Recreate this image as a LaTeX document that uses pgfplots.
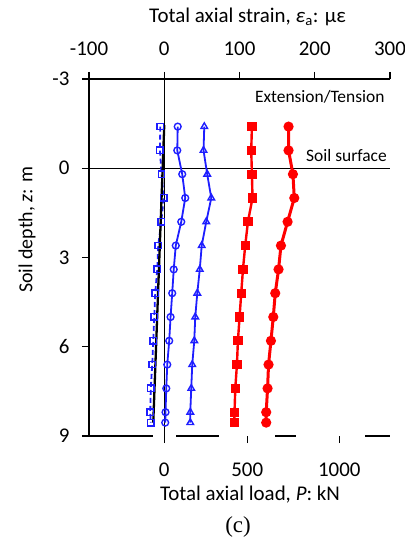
\documentclass[border=0pt]{standalone}
\usepackage{pgfplots}
\usepackage{pgfplotstable}
\pgfplotsset{compat=1.18}
\usepackage{fontspec}
\setmainfont{Carlito}
\newfontfamily\seriffont{Liberation Serif}
\definecolor{myblue}{RGB}{30,30,255}
\definecolor{myred}{RGB}{255,0,0}

% depth z (m) and total axial strain (micro-strain) for each series
\pgfplotstableread{
z e
-1.4 -5.3
-0.6 -5.7
0.2 -3.6
1.0 -0.7
1.8 -4.0
2.6 -8.0
3.4 -9.3
4.2 -12.0
5.0 -13.3
5.8 -14.6
6.6 -16.0
7.4 -17.9
8.2 -18.6
8.55 -17.9
}\sA
\pgfplotstableread{
z e
-1.4 17.9
-0.6 17.3
0.2 23.9
1.0 27.9
1.8 22.6
2.6 15.3
3.4 12.6
4.2 10.6
5.0 8.4
5.8 6.6
6.6 4.0
7.4 2.7
8.2 1.7
8.55 1.3
}\sB
\pgfplotstableread{
z e
-1.4 53.2
-0.6 52.2
0.2 57.1
1.0 62.5
1.8 55.8
2.6 49.8
3.4 47.2
4.2 43.9
5.0 41.2
5.8 39.9
6.6 37.2
7.4 35.9
8.2 34.6
8.55 34.6
}\sC
\pgfplotstableread{
z e
-1.4 116.5
-0.6 115.6
0.2 116.5
1.0 117.3
1.8 111.2
2.6 107.6
3.4 104.6
4.2 102.3
5.0 100.1
5.8 97.9
6.6 96.6
7.4 94.4
8.2 93.4
8.55 93.0
}\sD
\pgfplotstableread{
z e
-1.4 165.2
-0.6 165.2
0.2 171.0
1.0 172.8
1.8 163.9
2.6 155.1
3.4 151.9
4.2 147.5
5.0 144.9
5.8 141.8
6.6 138.6
7.4 137.3
8.2 135.5
8.55 135.5
}\sE
\pgfplotstableread{
z e
-1.45 0
8.55 -14.6
}\sF

\begin{document}
\begin{tikzpicture}
\useasboundingbox (-89bp,-103bp) rectangle (316bp,436bp);
\begin{axis}[
  at={(0,0)}, anchor=south west,
  scale only axis, width=301bp, height=357bp,
  xmin=-100, xmax=300, ymin=-9, ymax=3,
  axis x line*=top, axis y line*=left,
  xtick={-100,0,100,200,300}, xticklabels={-100,0,100,200,300},
  ytick={-9,-6,-3,0,3}, yticklabels={9,6,3,0,-3},
  tick align=outside, major tick length=7bp,
  ticklabel style={font=\fontsize{21}{21}\selectfont},
  xticklabel style={yshift=13bp},
  yticklabel style={xshift=-9bp},
  axis line style={line width=1.2bp, black},
  tick style={line width=1.2bp, black},
  clip=false,
]
\addplot[black, line width=0.8bp, forget plot] coordinates {(-100,0) (300,0)};
\addplot[black, line width=0.8bp, forget plot] coordinates {(0,3) (0,-9.2)};
\addplot[myblue, line width=1.8bp, dash pattern=on 5bp off 3bp, mark=square, mark size=3.2bp,
  mark options={solid, fill=white, line width=1.4bp}] table[x=e, y expr=-\thisrow{z}] {\sA};
\addplot[black, line width=2.3bp] table[x=e, y expr=-\thisrow{z}] {\sF};
\addplot[myblue, line width=1.8bp, mark=o, mark size=3.4bp,
  mark options={fill=white, line width=1.4bp}] table[x=e, y expr=-\thisrow{z}] {\sB};
\addplot[myblue, line width=1.8bp, mark=triangle, mark size=3.8bp,
  mark options={fill=white, line width=1.4bp}] table[x=e, y expr=-\thisrow{z}] {\sC};
\addplot[myred, line width=2.4bp, mark=square*, mark size=3.4bp,
  mark options={fill=myred}] table[x=e, y expr=-\thisrow{z}] {\sD};
\addplot[myred, line width=3bp, mark=*, mark size=3.5bp,
  mark options={fill=myred}] table[x=e, y expr=-\thisrow{z}] {\sE};
\node[anchor=east, inner sep=0pt, font=\fontsize{17.5}{17.5}\selectfont] at (axis cs:293,2.4) {Extension/Tension};
\node[anchor=east, inner sep=0pt, font=\fontsize{17.5}{17.5}\selectfont] at (axis cs:296,0.42) {Soil surface};
\end{axis}
\begin{axis}[
  at={(0,0)}, anchor=south west,
  scale only axis, width=301bp, height=357bp,
  xmin=-100, xmax=300, ymin=-9, ymax=3,
  axis x line*=bottom, axis y line=none,
  xtick={0,110.3,232.6}, xticklabels={0,500,1000},
  tick align=outside, major tick length=7bp,
  ticklabel style={font=\fontsize{21}{21}\selectfont},
  xticklabel style={yshift=-16bp},
  x axis line style={draw=none},
  tick style={line width=1.2bp, black},
  clip=false,
]
\draw[line width=1.2bp] (axis cs:-100,-9) -- (axis cs:-14.6,-9);
\draw[line width=1.2bp] (axis cs:15.9,-9) -- (axis cs:73.1,-9);
\draw[line width=1.2bp] (axis cs:147.5,-9) -- (axis cs:175.4,-9);
\draw[line width=1.2bp] (axis cs:267.1,-9) -- (axis cs:300,-9);
\end{axis}
\node[font=\fontsize{21}{21}\selectfont] at (158.5bp,419bp) {Total axial strain, \textit{ε}\textsubscript{a}: με};
\node[font=\fontsize{21}{21}\selectfont] at (161bp,-59bp) {Total axial load, \textit{P}: kN};
\node[rotate=90, font=\fontsize{20}{20}\selectfont] at (-62bp,206bp) {Soil depth, \textit{z}: m};
\node[inner sep=0pt, font=\seriffont\fontsize{23}{23}\selectfont] at (149bp,-91bp) {(c)};
\end{tikzpicture}
\end{document}
